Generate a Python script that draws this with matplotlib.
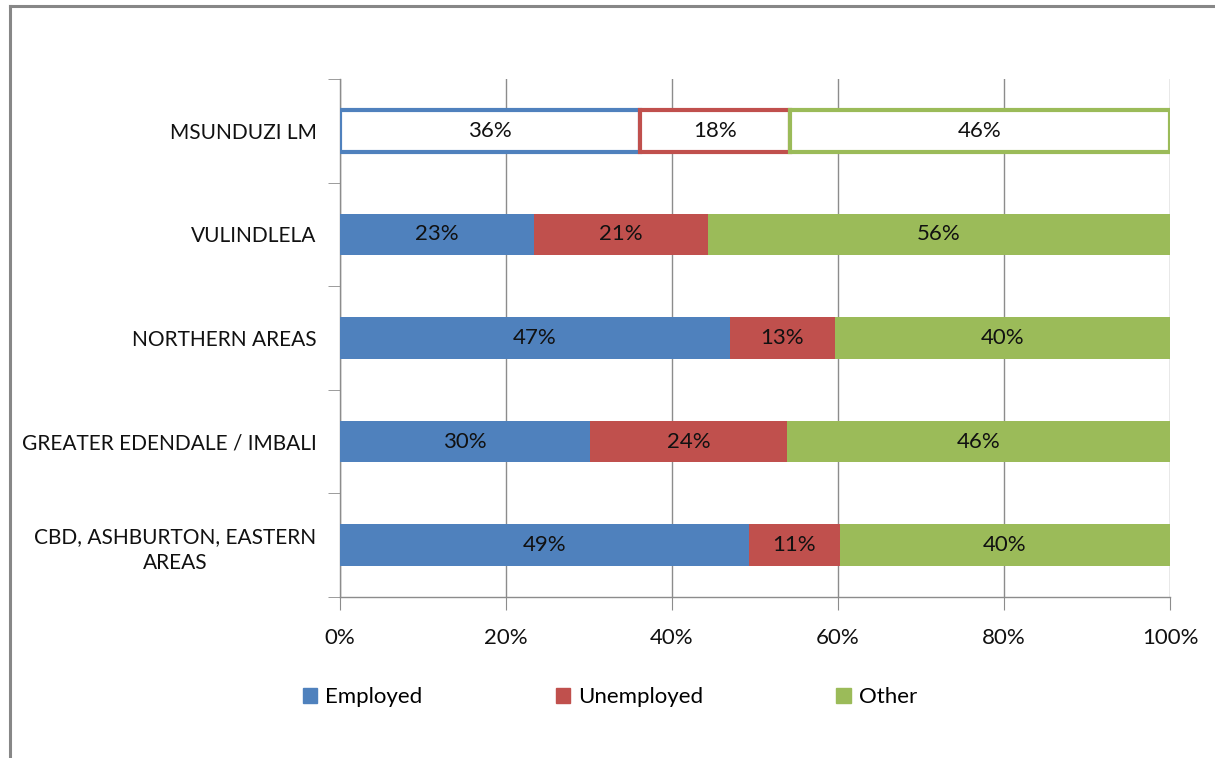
import matplotlib.pyplot as plt
import numpy as np
from matplotlib.lines import Line2D

# areas listed bottom to top, as drawn
areas = ['CBD, ASHBURTON, EASTERN\nAREAS', 'GREATER EDENDALE / IMBALI',
         'NORTHERN AREAS', 'VULINDLELA', 'MSUNDUZI LM']
employed = [49.3, 30.1, 47.0, 23.4, 36.1]
unemployed = [10.9, 23.8, 12.6, 20.9, 18.1]
other = [39.8, 46.1, 40.4, 55.7, 45.8]
series_names = ['Employed', 'Unemployed', 'Other']
colors = ['#4F81BD', '#C0504D', '#9BBB59']
xticks = [0, 20, 40, 60, 80, 100]

plt.rcParams['font.family'] = ['Lato', 'DejaVu Sans']

fig = plt.figure(figsize=(12.15, 7.58), dpi=100)
ax = fig.add_axes([340/1215, 1 - 597/758, 830/1215, 518/758])

y = np.arange(len(areas))
left = np.zeros(len(areas))
for name, vals, c in zip(series_names, [employed, unemployed, other], colors):
    vals = np.array(vals)
    # total row (top) is outlined only
    fc = [c] * (len(areas) - 1) + ['white']
    ec = ['none'] * (len(areas) - 1) + [c]
    lw = [0] * (len(areas) - 1) + [3]
    bars = ax.barh(y, vals, left=left, height=0.4, color=fc, edgecolor=ec,
                   linewidth=lw, label=name, zorder=3)
    for b, v in zip(bars, vals):
        ax.text(b.get_x() + b.get_width() / 2, b.get_y() + b.get_height() / 2,
                f'{v:.0f}%', ha='center', va='center', fontsize=16,
                color='#111111', zorder=4)
    left += vals

ax.set_xlim(0, 100)
ax.set_ylim(-0.5, len(areas) - 0.5)
ax.set_xticks(xticks)
ax.set_xticklabels([f'{t}%' for t in xticks], fontsize=16, color='#111111')
ax.tick_params(axis='x', direction='out', length=9, color='#8c8c8c', pad=13)
ax.grid(axis='x', color='#8c8c8c', linewidth=1, zorder=0)

ax.set_yticks(y)
ax.set_yticklabels(areas, fontsize=15, color='#111111', multialignment='center',
                   linespacing=1.35)
ax.set_yticks(np.arange(-0.5, len(areas)), minor=True)
ax.tick_params(axis='y', which='major', length=0, pad=17)
ax.tick_params(axis='y', which='minor', direction='out', length=9, color='#8c8c8c')

for s in ['top', 'right']:
    ax.spines[s].set_visible(False)
for s in ['left', 'bottom']:
    ax.spines[s].set_color('#8c8c8c')
    ax.spines[s].set_linewidth(1)

# legend with plain filled squares
handles = [plt.Rectangle((0, 0), 1, 1, color=c) for c in colors]
fig.legend(handles, series_names, loc='center', bbox_to_anchor=(0.502, 1 - 697/758),
           ncol=3, frameon=False, fontsize=16, handlelength=0.65, handleheight=0.65,
           handletextpad=0.35, columnspacing=6.0)

# outer chart border (left and top visible)
bx, by = 10/1215, 1 - 6/758
fig.add_artist(Line2D([bx, bx], [0, by], color='#878787', linewidth=2.2))
fig.add_artist(Line2D([bx, 1], [by, by], color='#878787', linewidth=2.2))

fig.savefig('out.png', dpi=100)
